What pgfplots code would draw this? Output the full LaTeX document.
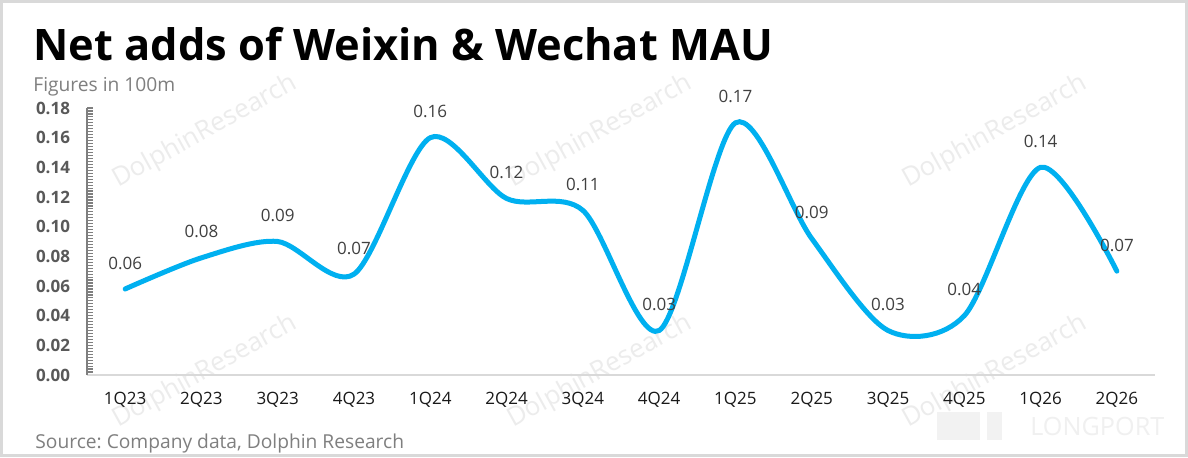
\documentclass[border=0pt]{standalone}
\usepackage{fontspec}
\setmainfont{Open Sans}
\usepackage{pgfplots}
\pgfplotsset{compat=1.18}
\definecolor{wxblue}{HTML}{00B0F0}
\definecolor{labgray}{HTML}{404040}
\definecolor{subgray}{HTML}{7F7F7F}
\definecolor{axgray}{HTML}{7F7F7F}
\definecolor{wmgray}{HTML}{ECECEC}
\frenchspacing

\begin{document}
\begin{tikzpicture}[x=1bp,y=1bp]
  \useasboundingbox (0,0) rectangle (594,228.5);
  \fill[white] (0,0) rectangle (594,228.5);
  \draw[black!15, line width=1.5bp] (0.75,0.75) rectangle (593.25,227.75);
  % watermarks
  \foreach \wx/\wy in {102.5/162.5, 300/162.5, 497.5/162.5, 102.5/42.5, 300/42.5, 497.5/42.5}
    \node[rotate=29, text=wmgray, font=\fontsize{13bp}{15bp}\selectfont] at (\wx,\wy) {DolphinResearch};
  \node[anchor=base west, inner sep=0pt, text=black!6, font=\fontsize{12.6bp}{14bp}\selectfont] at (515,11) {LONGPORT};
  \fill[black!5] (468.5,8.5) rectangle (490,22.5);
  \fill[black!5] (493.5,8.5) rectangle (501,22.5);

  % titles
  \node[anchor=base west, inner sep=0pt, font=\fontsize{21.7bp}{26bp}\selectfont\bfseries] at (16.5,198.5) {Net adds of Weixin \& Wechat MAU};
  \node[anchor=base west, inner sep=0pt, text=subgray, font=\fontsize{9.6bp}{12bp}\selectfont] at (16.5,183) {Figures in 100m};
  \node[anchor=base west, inner sep=0pt, text=subgray, font=\fontsize{9.6bp}{12bp}\selectfont] at (17.5,4.5) {Source: Company data, Dolphin Research};

  \begin{axis}[
    at={(43.5bp,41bp)}, anchor=south west,
    width=534bp, height=133.5bp, scale only axis,
    xmin=-0.5, xmax=13.5, ymin=0, ymax=0.18,
    clip=false,
    axis lines*=left,
    x axis line style={black!15, line width=1bp},
    y axis line style={axgray, line width=1bp},
    xtick={0,...,13},
    xticklabels={1Q23,2Q23,3Q23,4Q23,1Q24,2Q24,3Q24,4Q24,1Q25,2Q25,3Q25,4Q25,1Q26,2Q26},
    xtick style={draw=none},
    xticklabel style={font=\fontsize{8.5bp}{10bp}\selectfont, text=black!90, yshift=-5bp},
    ytick={0,0.02,0.04,0.06,0.08,0.10,0.12,0.14,0.16,0.18},
    minor y tick num=9,
    ytick pos=left,
    ytick style={axgray, line width=0.6bp},
    major tick length=3bp, minor tick length=3bp,
    yticklabel style={font=\fontsize{8.5bp}{10bp}\selectfont\bfseries, text=black!65, xshift=-5bp},
    /pgf/number format/assume math mode=true,
    yticklabel={\pgfmathprintnumber[fixed, fixed zerofill, precision=2]{\tick}},
    nodes near coords={\pgfmathprintnumber[fixed, fixed zerofill, precision=2]{\pgfplotspointmeta}},
    nodes near coords style={font=\fontsize{8.5bp}{10bp}\selectfont, text=labgray, anchor=center, yshift=13bp},
  ]
  \addplot[wxblue, line width=2.5bp, smooth, line cap=round] coordinates {
(0,0.058)
(1,0.079)
(2,0.090)
(3,0.068)
(4,0.160)
(5,0.119)
(6,0.111)
(7,0.030)
(8,0.170)
(9,0.092)
(10,0.030)
(11,0.040)
(12,0.140)
(13,0.070)};
  \end{axis}
\end{tikzpicture}
\end{document}
